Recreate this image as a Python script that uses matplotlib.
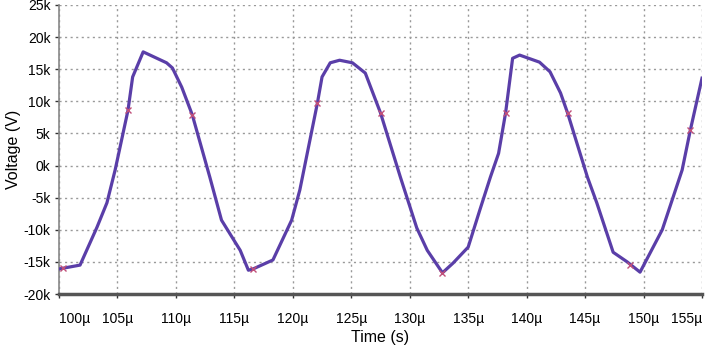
import matplotlib
matplotlib.use("Agg")
import matplotlib.pyplot as plt
import numpy as np

# waveform samples (time in microseconds, voltage in kV)
time_us = [100.0, 101.8, 103.25, 104.1, 104.8, 105.9, 106.3, 107.2, 109.2, 109.7, 110.5, 111.4,
           112.9, 113.9, 115.5, 116.2, 116.6, 118.3, 119.9, 120.6, 122.1, 122.5, 123.2, 124.0,
           125.1, 126.2, 127.5, 129.2, 130.6, 131.5, 132.8, 133.7, 135.0, 136.0, 136.9, 137.6,
           138.2, 138.8, 139.4, 141.1, 142.0, 142.9, 143.5, 145.2, 146.0, 147.4, 148.6, 149.7,
           151.6, 153.3, 154.0, 155.0]
volt_k = [-16.1, -15.5, -9.6, -5.8, -0.7, 8.6, 13.8, 17.7, 16.0, 15.2, 12.2, 7.9,
          -1.8, -8.5, -13.2, -16.3, -16.1, -14.7, -8.5, -3.8, 9.7, 13.8, 16.0, 16.4,
          16.0, 14.4, 8.2, -1.8, -9.7, -13.2, -16.7, -15.2, -12.7, -6.9, -1.8, 1.9,
          8.2, 16.7, 17.2, 16.1, 14.6, 11.3, 8.2, -1.8, -5.8, -13.5, -15.0, -16.6,
          -10.0, -0.7, 5.5, 13.6]

# cursor markers
mark_t = [100.3, 105.9, 111.4, 116.6, 122.1, 127.5, 132.8, 138.2, 143.5, 148.8, 154.0]
mark_v = [-16.0, 8.6, 7.9, -16.1, 9.7, 8.2, -16.7, 8.2, 8.2, -15.5, 5.5]

x_ticks = [100, 105, 110, 115, 120, 125, 130, 135, 140, 145, 150, 155]
x_labels = [f"{t}µ" for t in x_ticks]
y_ticks = [-20, -15, -10, -5, 0, 5, 10, 15, 20, 25]
y_labels = [f"{v}k" for v in y_ticks]

plt.rcParams['font.family'] = ['Liberation Sans', 'DejaVu Sans']

fig = plt.figure(figsize=(7.08, 3.58), dpi=100)
ax = fig.add_axes([59/708, 1-294/358, (702-59)/708, (294-5)/358])

ax.plot(np.array(time_us), np.array(volt_k), color='#5a3ea8', lw=2.3, solid_joinstyle='round', zorder=3)
ax.plot(mark_t, mark_v, linestyle='none', marker='x', ms=4, mew=1.0, color='#c0507a', zorder=4)

ax.set_xlim(100, 155)
ax.set_ylim(-20, 25)
ax.set_xticks(x_ticks)
ax.set_xticklabels(x_labels, fontsize=10)
ax.set_yticks(y_ticks)
ax.set_yticklabels(y_labels, fontsize=10)
lbls = ax.get_xticklabels()
lbls[0].set_horizontalalignment('left')
lbls[-1].set_horizontalalignment('right')

ax.grid(True, color='#999999', linestyle=(0, (1.5, 2.5)), lw=1.0)
for s in ['top', 'right']:
    ax.spines[s].set_visible(False)
ax.spines['left'].set_color('#888888')
ax.spines['left'].set_linewidth(1.2)
ax.spines['bottom'].set_color('#555555')
ax.spines['bottom'].set_linewidth(2.5)
ax.tick_params(axis='x', length=3, width=1, color='#333333', pad=10)
ax.tick_params(axis='y', length=3, width=1, color='#333333', pad=3)

ax.set_xlabel('Time (s)', fontsize=11.5, labelpad=3)
ax.set_ylabel('Voltage (V)', fontsize=11.5, labelpad=2)

fig.savefig('out.png', dpi=100)
